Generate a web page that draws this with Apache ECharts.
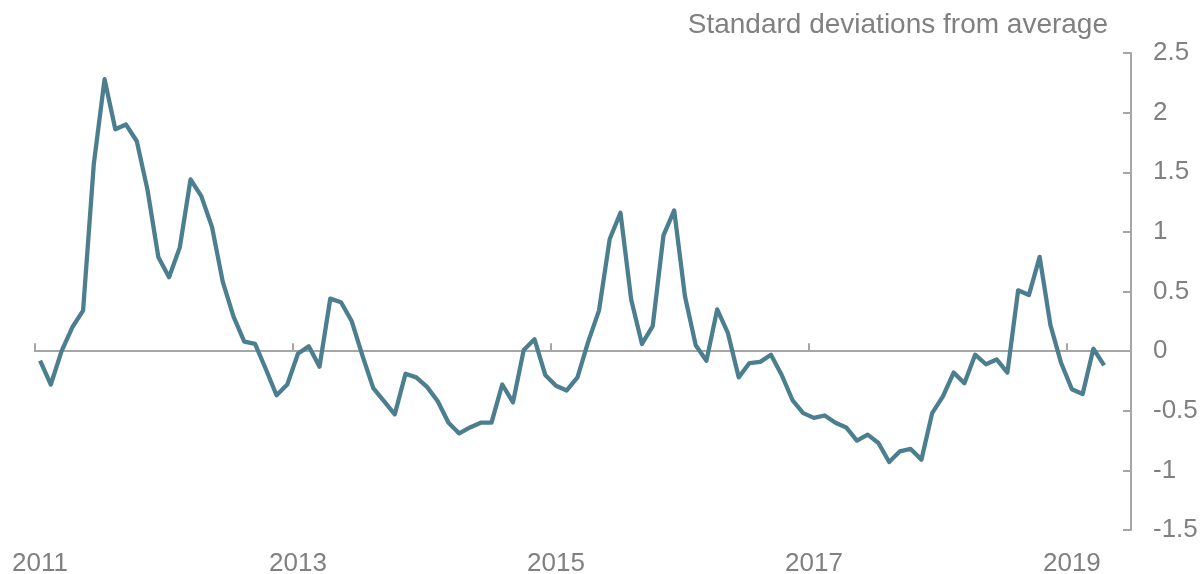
<!DOCTYPE html>
<html>
<head>
<meta charset="utf-8">
<script src="https://cdn.jsdelivr.net/npm/echarts@6/dist/echarts.min.js"></script>
<style>
  html, body { margin: 0; padding: 0; background: #fff; }
  #chart { width: 1200px; height: 574px; }
</style>
</head>
<body>
<div id="chart"></div>
<script>
// Monthly categories Jan 2011 .. Jun 2019 (axis runs slightly past the last data point)
const years = [2011, 2012, 2013, 2014, 2015, 2016, 2017, 2018, 2019];
const monthsInLastYear = 6;
const categories = [];
years.forEach(function (y, k) {
  const n = (k === years.length - 1) ? monthsInLastYear : 12;
  for (let m = 1; m <= n; m++) categories.push(y + '-' + (m < 10 ? '0' + m : m));
});

// Standard deviations from average, Jan 2011 .. Apr 2019
const values = [
  -0.08, -0.28, 0.00, 0.20, 0.34, 1.57, 2.28, 1.86, 1.90, 1.76, 1.35, 0.79,
  0.62, 0.87, 1.44, 1.30, 1.04, 0.58, 0.29, 0.08, 0.06, -0.15, -0.37, -0.28,
  -0.02, 0.04, -0.13, 0.44, 0.41, 0.25, -0.04, -0.31, -0.42, -0.53, -0.19, -0.22,
  -0.30, -0.42, -0.60, -0.69, -0.64, -0.60, -0.60, -0.28, -0.43, 0.01, 0.10, -0.20,
  -0.29, -0.33, -0.22, 0.08, 0.34, 0.94, 1.16, 0.43, 0.06, 0.21, 0.97, 1.18,
  0.46, 0.05, -0.08, 0.35, 0.15, -0.22, -0.10, -0.09, -0.03, -0.20, -0.41, -0.52,
  -0.56, -0.54, -0.60, -0.64, -0.75, -0.70, -0.77, -0.93, -0.84, -0.82, -0.91, -0.52,
  -0.38, -0.18, -0.27, -0.03, -0.11, -0.07, -0.18, 0.51, 0.47, 0.79, 0.22, -0.10,
  -0.32, -0.36, 0.02, -0.12
];

const yTicks = { min: -1.5, max: 2.5, interval: 0.5 };
const titleText = 'Standard deviations from average';

const chart = echarts.init(document.getElementById('chart'), null, { renderer: 'canvas' });
const gray = '#a6a6a6';
const textGray = '#808080';
const font = 'Liberation Sans, Arial, sans-serif';

chart.setOption({
  animation: false,
  backgroundColor: '#ffffff',
  title: {
    text: titleText,
    right: 92,
    top: 11,
    padding: 0,
    textStyle: { color: textGray, fontSize: 28, fontWeight: 'normal', fontFamily: font }
  },
  grid: { left: 34.7, right: 69, top: 53, bottom: 44, containLabel: false, outerBoundsMode: 'none' },
  xAxis: [{
    // zero line with yearly tick marks
    type: 'category',
    data: categories,
    boundaryGap: true,
    axisLine: { onZero: true, lineStyle: { color: gray, width: 2 } },
    axisTick: { show: true, inside: true, length: 8, interval: 23, lineStyle: { color: gray, width: 2 } },
    axisLabel: { show: false },
    splitLine: { show: false }
  }, {
    // year labels along the bottom
    type: 'category',
    data: categories,
    position: 'bottom',
    boundaryGap: true,
    axisLine: { show: false, onZero: false },
    axisTick: { show: false },
    axisLabel: {
      interval: 23,
      margin: 21,
      color: textGray,
      fontSize: 26,
      fontFamily: font,
      formatter: function (v) { return v.slice(0, 4); }
    },
    splitLine: { show: false }
  }],
  yAxis: {
    type: 'value',
    position: 'right',
    min: yTicks.min,
    max: yTicks.max,
    interval: yTicks.interval,
    axisLine: { show: true, lineStyle: { color: gray, width: 2 } },
    axisTick: { show: true, inside: true, length: 8, lineStyle: { color: gray, width: 2 } },
    axisLabel: {
      margin: 22,
      color: textGray,
      fontSize: 26,
      fontFamily: font,
      formatter: function (v) { return String(Math.round(v * 10) / 10); }
    },
    splitLine: { show: false }
  },
  series: [{
    type: 'line',
    data: values,
    xAxisIndex: 0,
    symbol: 'none',
    smooth: false,
    lineStyle: { color: '#4b7f8f', width: 4.3, join: 'round' },
    z: 3
  }]
});
</script>
</body>
</html>
